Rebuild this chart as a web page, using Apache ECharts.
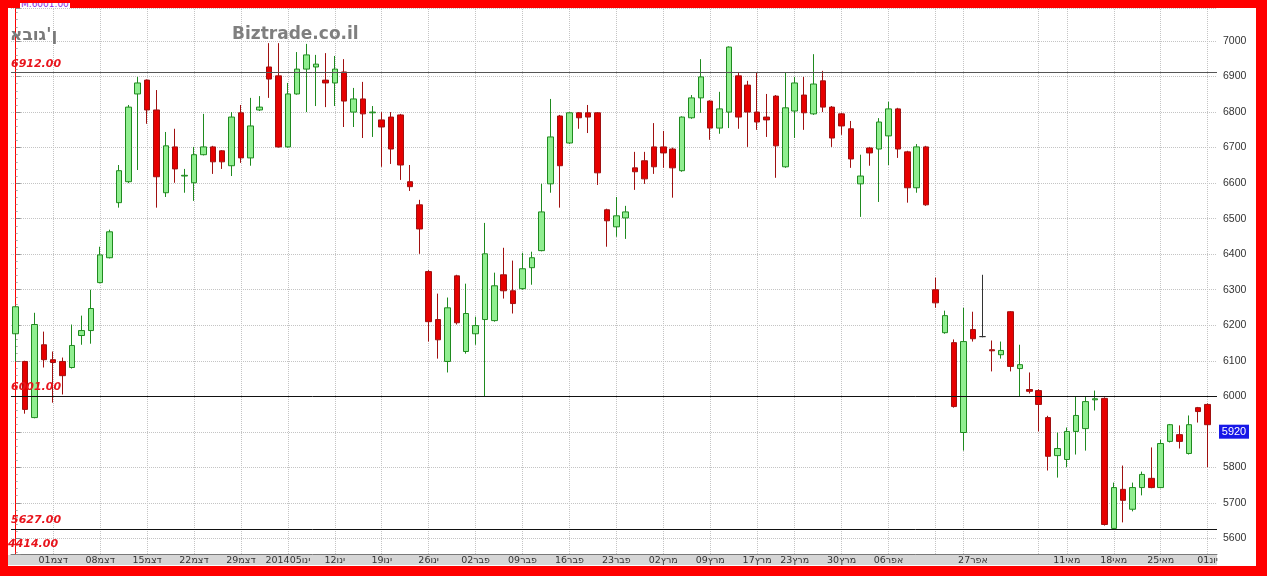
<!DOCTYPE html>
<html><head><meta charset="utf-8">
<script src="https://cdn.jsdelivr.net/npm/echarts@6/dist/echarts.min.js"></script>
<style>
html,body{margin:0;padding:0;background:#ff0000;width:1267px;height:576px;overflow:hidden}
#c{position:absolute;left:8px;top:8px;width:1248px;height:558px;background:#fff}
#tag{position:absolute;left:20px;top:3px;height:6px;overflow:hidden;background:#fff;padding:0 1px}
#tag span{display:block;margin-top:-5px;font:9px 'DejaVu Sans',sans-serif;color:#8a2be2;line-height:12px}
</style></head><body>
<div id="tag"><span>M.6001.00</span></div>
<div id="c"></div>
<script>
const opens  = [6176,6098,5940,6145,6103,6098,6081,6171,6185,6320,6390,6545,6604,6851,6890,6806,6573,6702,6620,6601,
  6680,6702,6691,6649,6798,6671,6806,6927,6902,6702,6851,6921,6927,6890,6882,6913,6800,6837,6798,6778,
  6786,6792,6604,6539,6351,6216,6098,6339,6126,6176,6216,6213,6342,6297,6303,6362,6410,6598,6789,6713,
  6798,6798,6798,6525,6477,6502,6643,6663,6702,6702,6696,6635,6784,6840,6831,6755,6800,6902,6876,6800,
  6786,6845,6646,6803,6848,6795,6888,6814,6795,6753,6598,6699,6696,6733,6809,6688,6587,6702,6300,6179,
  6151,5898,6188,6168,6131,6117,6238,6078,6019,6016,5940,5833,5822,5901,5909,5990,5994,5628,5738,5682,
  5743,5769,5743,5873,5892,5839,5968,5977];
const closes = [6252,5963,6202,6103,6095,6058,6143,6185,6247,6398,6463,6635,6814,6882,6806,6618,6705,6640,6622,6680,
  6702,6660,6660,6786,6671,6761,6814,6893,6702,6851,6921,6961,6935,6882,6921,6831,6837,6795,6800,6758,
  6696,6651,6590,6471,6210,6159,6249,6207,6233,6199,6401,6311,6297,6261,6359,6390,6519,6730,6649,6798,
  6784,6786,6629,6494,6508,6519,6632,6612,6646,6685,6643,6786,6840,6899,6755,6809,6983,6786,6800,6772,
  6778,6705,6812,6882,6798,6879,6814,6727,6761,6668,6620,6685,6772,6809,6696,6587,6702,6539,6263,6227,
  5971,6154,6162,6168,6128,6129,6084,6089,6014,5977,5831,5853,5901,5946,5985,5993,5639,5743,5707,5743,
  5780,5743,5867,5920,5873,5920,5957,5920];
const lows   = [6098,5951,5938,6081,5982,6005,6078,6145,6148,6318,6388,6531,6600,6637,6767,6531,6561,6601,6573,6550,
  6678,6626,6640,6620,6657,6649,6803,6840,6700,6700,6849,6800,6817,6814,6817,6758,6758,6727,6730,6646,
  6654,6609,6578,6401,6154,6106,6067,6202,6120,6145,5999,6210,6275,6233,6300,6314,6408,6573,6531,6710,
  6753,6741,6595,6421,6449,6443,6581,6598,6626,6643,6559,6632,6781,6798,6722,6739,6755,6753,6702,6750,
  6730,6615,6643,6727,6750,6792,6800,6702,6736,6643,6505,6649,6547,6651,6671,6545,6573,6536,6249,6176,
  5968,5847,6154,6166,6070,6106,6070,5999,6008,5901,5791,5771,5800,5836,5847,5960,5636,5625,5645,5676,
  5721,5741,5741,5870,5853,5836,5926,5800];
const highs  = [6255,6100,6235,6182,6126,6109,6202,6227,6300,6421,6469,6651,6820,6899,6892,6862,6744,6753,6640,6702,
  6795,6705,6693,6800,6820,6840,6845,6994,6994,6882,6969,6992,6961,6966,6958,6949,6868,6885,6817,6800,
  6800,6795,6651,6553,6355,6289,6278,6342,6317,6224,6488,6348,6418,6382,6404,6407,6598,6837,6792,6800,
  6800,6820,6800,6528,6561,6536,6688,6688,6769,6747,6700,6788,6848,6949,6833,6857,6985,6913,6888,6910,
  6851,6848,6910,6899,6899,6963,6916,6817,6798,6775,6680,6702,6783,6829,6812,6691,6710,6705,6334,6241,
  6160,6249,6238,6342,6157,6154,6240,6145,6067,6020,5945,5898,5912,5999,5999,6016,5997,5757,5805,5757,
  5788,5856,5878,5922,5918,5946,5970,5980];
const tickIndex  = [4,9,14,19,24,29,34,39,44,49,54,59,64,69,74,79,83,88,93,102,112,117,122,127];
const tickLabels = ['01דצמ','08דצמ','15דצמ','22דצמ','29דצמ','201405ינו','12ינו','19ינו','26ינו','02פבר','09פבר','16פבר','23פבר',
  '02מרץ','09מרץ','17מרץ','23מרץ','30מרץ','06אפר','27אפר','11מאי','18מאי','25מאי','01יונ'];
const gridIndex  = [4,9,14,19,24,29,34,39,44,49,54,59,64,69,74,79,83,88,93,98,101,109,112,117,122,127];
const levels     = [6912, 6001, 5627];
const offLevel   = 4414;
const lastPrice  = 5920;
const titleText  = "\u202Dאבוג'ן\u202C";
const siteText   = 'Biztrade.co.il';

const labelMap = {};
tickIndex.forEach((ix, k) => { labelMap[ix] = tickLabels[k]; });
const candles = opens.map((o, i) => [i, o, closes[i], lows[i], highs[i]]);

const chart = echarts.init(document.getElementById('c'), null, {renderer: 'canvas'});
chart.setOption({
  animation: false,
  backgroundColor: '#ffffff',
  grid: {left: 0, right: 39, top: 0, bottom: 12, containLabel: false},
  xAxis: {
    type: 'value', min: -0.5, max: 128, interval: 0.5,
    axisLine: {show: true, onZero: false, lineStyle: {color: '#7a7a7a', width: 1}},
    axisTick: {show: false},
    splitLine: {show: false},
    axisLabel: {
      show: true, margin: 2, fontSize: 9.5, color: '#333', fontFamily: 'DejaVu Sans',
      showMinLabel: true, showMaxLabel: true,
      formatter: v => (Number.isInteger(v) && labelMap[v]) ? labelMap[v] : ''
    }
  },
  yAxis: {
    type: 'value', position: 'right', min: 5556, max: 7093, splitNumber: 15, scale: true,
    axisLine: {show: true, lineStyle: {color: '#ff0000', width: 1}},
    axisTick: {show: true, length: 5, lineStyle: {color: '#888'}},
    minorTick: {show: true, splitNumber: 5, length: 2, lineStyle: {color: '#aaa'}},
    axisLabel: {color: '#333', fontSize: 10.5, fontFamily: 'Liberation Sans, Arial, sans-serif', margin: 6,
      showMinLabel: false, showMaxLabel: false, formatter: v => String(Math.round(v))},
    splitLine: {show: true, lineStyle: {color: '#c4c4c4', type: 'dotted', width: 1}}
  },
  graphic: [
    {type: 'rect', left: 0, top: 547, z: -10, shape: {width: 1209, height: 10}, style: {fill: '#d6d6d6'}},
    {type: 'text', left: 2, top: 19, z: 10, style: {text: titleText, font: 'bold 17px "DejaVu Sans"', fill: '#7a7a7a'}},
    {type: 'text', left: 224, top: 18, z: 10, style: {text: siteText, font: 'bold 17px "DejaVu Sans"', fill: '#7f7f7f'}},
    {type: 'text', left: 0, top: 531, z: 10, style: {text: offLevel.toFixed(2), font: 'italic bold 11px "DejaVu Sans"', fill: '#e8141c'}}
  ],
  series: [
    {
      type: 'line', data: [], z: 1, silent: true,
      markLine: {
        z: 1, symbol: 'none', silent: true, animation: false,
        label: {show: false},
        lineStyle: {color: '#c4c4c4', type: 'dotted', width: 1},
        data: gridIndex.map(ix => ({xAxis: ix}))
      }
    },
    {
      type: 'candlestick', data: candles, barWidth: 6, clip: false, z: 2,
      itemStyle: {color: '#90ee90', color0: '#e60000', borderColor: '#1f8a1f', borderColor0: '#a01010',
        borderColorDoji: '#333', borderWidth: 1},
      markLine: {
        z: 5, symbol: 'none', silent: true, animation: false,
        data: levels.map((v, k) => ({
          yAxis: v,
          lineStyle: {color: k === 0 ? '#555' : '#111', type: 'solid', width: 1},
          label: {show: true, position: 'insideStartTop', distance: [0, 3], formatter: v.toFixed(2),
            color: '#e8141c', fontStyle: 'italic', fontWeight: 'bold', fontFamily: 'DejaVu Sans', fontSize: 11}
        }))
      },
      markPoint: {
        silent: true, animation: false,
        data: [{
          coord: [128, lastPrice], symbol: 'rect', symbolSize: [30, 14], symbolOffset: [17, 7],
          itemStyle: {color: '#1818e8'},
          label: {show: true, position: 'inside', formatter: String(lastPrice), color: '#fff', fontSize: 11,
            fontFamily: 'Liberation Sans, Arial, sans-serif'}
        }]
      }
    }
  ]
});
</script>
</body></html>
